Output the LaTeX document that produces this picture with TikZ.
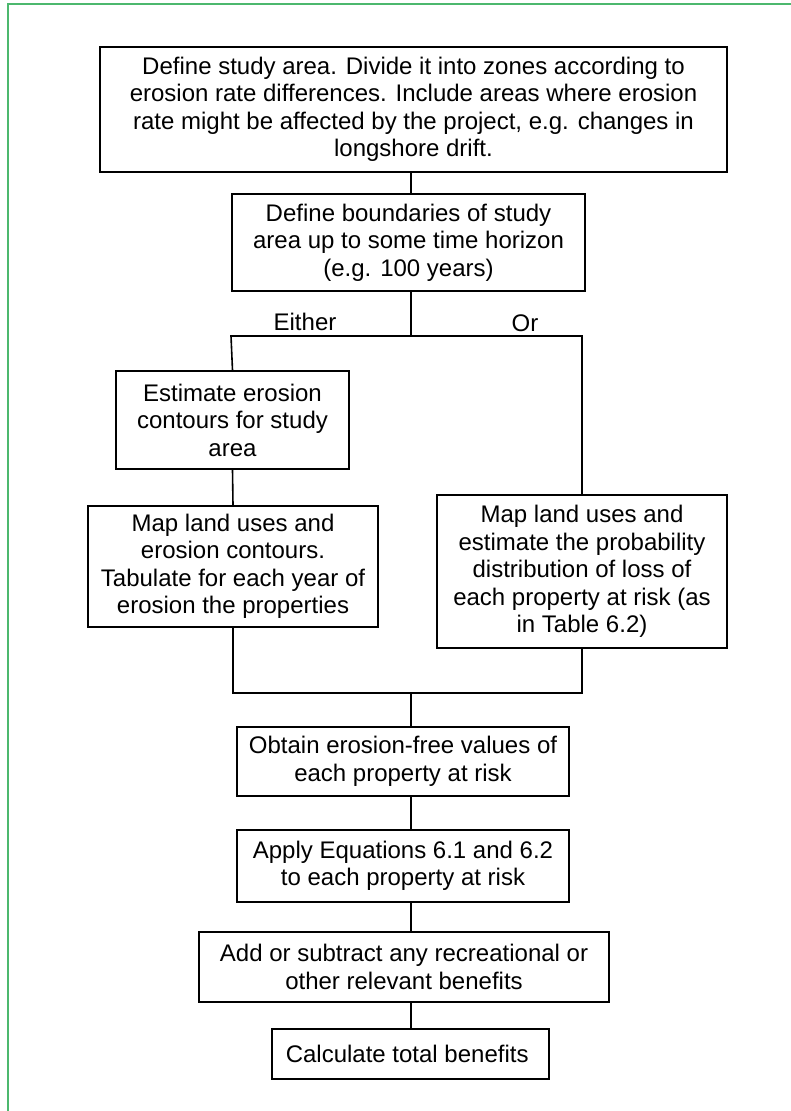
\documentclass[tikz,border=0pt]{standalone}
\usepackage{fontspec}
\setmainfont{Liberation Sans}
\usetikzlibrary{positioning}
\definecolor{frame}{RGB}{76,184,110}

\begin{document}
\begin{tikzpicture}[x=1pt, y=-1pt,
  task/.style={
    rectangle, draw=black, line width=1.8pt, align=center,
    inner sep=2pt, font=\fontsize{24}{27.5}\selectfont
  },
  link/.style={line width=1.6pt, black},
  tag/.style={font=\fontsize{24}{27.5}\selectfont, inner sep=0pt}
]
\useasboundingbox (0,0) rectangle (790,1111);
\draw[frame, line width=2pt] (8,1120) -- (8,4) -- (800,4);

\node[task, minimum width=627pt, minimum height=125pt] (area) at (413.5,109.5) {
  Define study area. Divide it into zones according to\\
  erosion rate differences. Include areas where erosion\\
  rate might be affected by the project, e.g. changes in\\
  longshore drift.
};

\node[task, minimum width=353pt, minimum height=97pt] (bounds) at (408.5,242.5) {
  Define boundaries of study\\
  area up to some time horizon\\
  (e.g. 100 years)
};

\node[task, minimum width=233pt, minimum height=98pt] (contours) at (232.5,420) {
  Estimate erosion\\
  contours for study\\
  area
};

\node[task, minimum width=290pt, minimum height=121pt] (tabulate) at (233,566.5) {
  Map land uses and\\
  erosion contours.\\
  Tabulate for each year of\\
  erosion the properties
};

\node[task, minimum width=290pt, minimum height=153pt] (prob) at (582,571.5) {
  Map land uses and\\
  estimate the probability\\
  distribution of loss of\\
  each property at risk (as\\
  in Table 6.2)
};

\node[task, minimum width=332pt, minimum height=69pt] (free) at (403,761.5) {
  Obtain erosion-free values of\\
  each property at risk
};

\node[task, minimum width=332pt, minimum height=72pt] (apply) at (403,866) {
  Apply Equations 6.1 and 6.2\\
  to each property at risk
};

\node[task, minimum width=410pt, minimum height=70pt] (extra) at (404,967) {
  Add or subtract any recreational or\\
  other relevant benefits
};

\node[task, minimum width=277pt, minimum height=50pt] (total) at (410.5,1054) {
  Calculate total benefits
};

% branch and merge points
\coordinate (split) at (411,336);
\coordinate (eitherend) at (231,336);
\coordinate (orend) at (582,336);
\coordinate (join) at (411,693);

\draw[link] (area.south -| split) -- (bounds.north -| split);
\draw[link] (bounds.south -| split) -- (split);
\draw[link] (contours.north) -- (eitherend) -- (orend) -- (prob.north);
\draw[link] (contours.south) -- (tabulate.north);
\draw[link] (tabulate.south) |- (join) -| (prob.south);
\draw[link] (join) -- (free.north -| join);
\draw[link] (free.south -| join) -- (apply.north -| join);
\draw[link] (apply.south -| join) -- (extra.north -| join);
\draw[link] (extra.south -| join) -- (total.north -| join);

\node[tag] (either) at (305,322) {Either};
\node[tag] (or) at (525,323) {Or};

\end{tikzpicture}
\end{document}
